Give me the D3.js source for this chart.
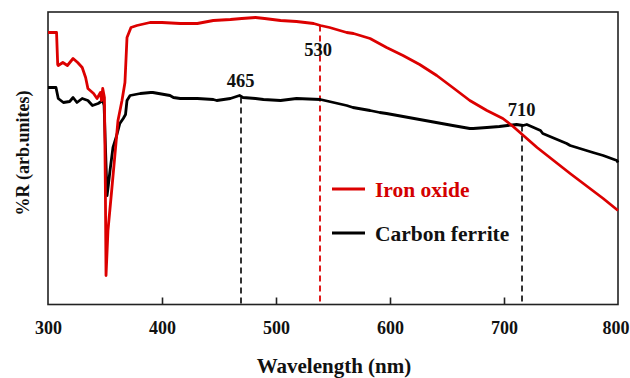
<!DOCTYPE html>
<html>
<head>
<meta charset="utf-8">
<script src="https://cdn.jsdelivr.net/npm/d3@7"></script>
<style>
  html, body { margin: 0; padding: 0; background: #fff; }
  svg { display: block; }
  text { font-family: "Liberation Serif", "Times New Roman", serif; font-weight: bold; }
</style>
</head>
<body>
<svg id="chart" width="630" height="378"></svg>
<script>
// ---- Data ----
const xTicks = [300, 400, 500, 600, 700, 800];

const ironWavelength = [300,307.5,308.5,309,313,317,322,326,330,333,335,340,343,346,347,348,349.5,350.3,350.9,352.6,356.1,358.8,361.4,364.9,367.5,369.3,372.8,378,389.5,400,416,431,445,460,470,482,490,504,518,533,539,547,562,568,582.5,597,611.4,626,641,655,670,685,699,708,729,758,787,800];
const ironReflectance = [272,272,240,239,242,239,246,242,237,227,216,211,206,212,204,216,207,120,29,74,117,151,184,204,222,267,277,279,282,282,281,281,284,285,286,287,286,284,283,281,279,277,272,271,266,257,249,240,229,217,204,194,186,178,157,131,106,94];

const ferriteWavelength = [300,307,309,313.5,319,322,325.4,330,335,339,344,348,349.2,351.8,353,354.4,357,360,363,366,368,369.3,372,381,390,392,407,410,416,431,445,448,460,468,471,482,489,504,518,539,562,567.5,582.5,591,597,626,655,670,673,685,696,703,711,716.7,720,732,734,755,758,778,787,799,800];
const ferriteReflectance = [217,217,206,202,203,207,202,206,204,199,201,204,199,109,120,134,157,168,181,186,190,204,209,211,212,212,209,207,206,206,205,204,206,209,207,206,205,204,206,205,199,197,194,192,191,185,179,176,176,177,178,179,180,179,180,174,171,161,159,152,149,144,142];

const seriesNames = ["Iron oxide", "Carbon ferrite"];
const seriesColors = ["#dc0000", "#000000"];

const markerLabels = ["465", "530", "710"];
const markerWavelength = [469.3, 538.6, 715.8];
const markerTop = [207, 279, 179];
const markerColors = ["#000000", "#dc0000", "#000000"];
const markerLabelValue = [218, 249, 189];

// ---- Layout ----
const svg = d3.select("#chart");
const mLeft = 48, mRight = 618, mTop = 12, mBottom = 304.5;

const x = d3.scaleLinear().domain([300, 800]).range([mLeft, mRight]);
const y = d3.scaleLinear().domain([0, 292.5]).range([mBottom, mTop]);

// frame
svg.append("rect")
  .attr("x", mLeft).attr("y", mTop)
  .attr("width", mRight - mLeft).attr("height", mBottom - mTop)
  .attr("fill", "none").attr("stroke", "#222").attr("stroke-width", 1.6);

// bottom axis with inward ticks
const xAxis = d3.axisBottom(x).tickValues(xTicks).tickSize(0).tickPadding(0).tickFormat(d3.format("d"));
const gx = svg.append("g").attr("transform", `translate(0,${mBottom})`).call(xAxis);
gx.select(".domain").remove();
gx.selectAll("text").attr("dy", null).attr("y", 29.5)
  .attr("x", d => d === 800 ? -2.5 : 0)
  .style("font-size", "18px").attr("fill", "#111");
gx.selectAll(".tick").filter(d => d !== 300 && d !== 800)
  .append("line").attr("y1", 0).attr("y2", -7).attr("stroke", "#222").attr("stroke-width", 1.6);

// marker dashed lines
markerWavelength.forEach((w, i) => {
  svg.append("line")
    .attr("x1", x(w)).attr("x2", x(w))
    .attr("y1", y(markerTop[i])).attr("y2", mBottom)
    .attr("stroke", markerColors[i]).attr("stroke-width", i === 1 ? 1.8 : 1.6)
    .attr("stroke-dasharray", "6,4");
});

// curves
const line = d3.line().x(d => x(d[0])).y(d => y(d[1]));
const ferrite = ferriteWavelength.map((w, i) => [w, ferriteReflectance[i]]);
const iron = ironWavelength.map((w, i) => [w, ironReflectance[i]]);

svg.append("path").datum(ferrite).attr("d", line)
  .attr("fill", "none").attr("stroke", seriesColors[1]).attr("stroke-width", 2.8)
  .attr("stroke-linejoin", "round");
svg.append("path").datum(iron).attr("d", line)
  .attr("fill", "none").attr("stroke", seriesColors[0]).attr("stroke-width", 2.8)
  .attr("stroke-linejoin", "round");

// marker labels (centred slightly left of their dashed lines, as in the reference)
const labelOffset = [-0.5, -1.8, -0.3];
markerLabels.forEach((t, i) => {
  svg.append("text")
    .attr("x", x(markerWavelength[i]) + labelOffset[i])
    .attr("y", y(markerLabelValue[i]))
    .attr("text-anchor", "middle")
    .style("font-size", "18.5px").attr("fill", "#111")
    .text(t);
});

// legend
const legendY = [189, 233];
seriesNames.forEach((name, i) => {
  svg.append("line")
    .attr("x1", 332).attr("x2", 365)
    .attr("y1", legendY[i]).attr("y2", legendY[i])
    .attr("stroke", seriesColors[i]).attr("stroke-width", 3);
  svg.append("text")
    .attr("x", 375).attr("y", legendY[i] + 8)
    .style("font-size", "21.5px")
    .attr("fill", i === 0 ? "#d40000" : "#111")
    .text(name);
});

// axis titles
svg.append("text")
  .attr("x", 334).attr("y", 373)
  .attr("text-anchor", "middle")
  .style("font-size", "21px").attr("fill", "#111")
  .text("Wavelength (nm)");

svg.append("text")
  .attr("transform", "translate(29,153) rotate(-90)")
  .attr("text-anchor", "middle")
  .style("font-size", "18px").attr("fill", "#111")
  .text("%R (arb.unites)");
</script>
</body>
</html>
